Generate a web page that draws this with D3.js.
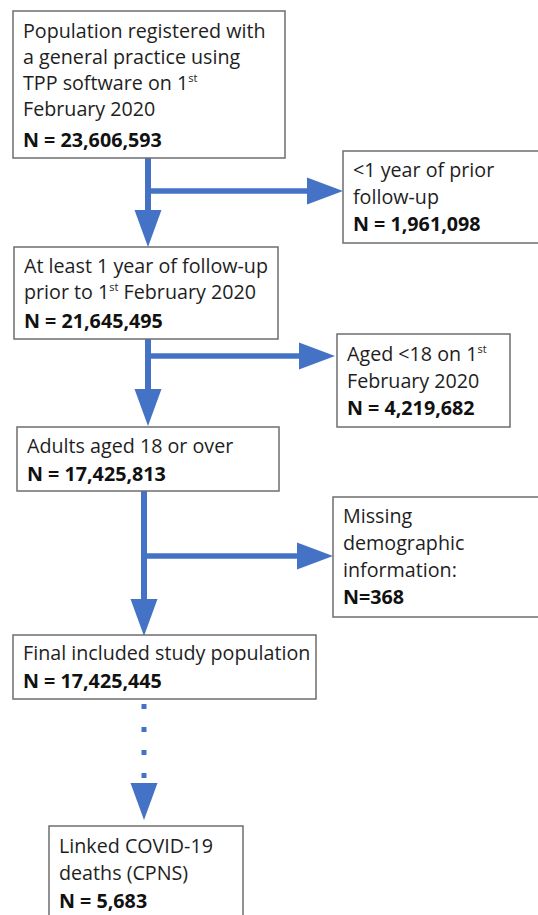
<!DOCTYPE html>
<html>
<head>
<meta charset="utf-8">
<script src="https://cdn.jsdelivr.net/npm/d3@7"></script>
<style>
  body { margin: 0; background: #fff; }
  svg { display: block; }
</style>
</head>
<body>
<div class="flow"><svg></svg></div>
<script>
var width = 538
var height = 915

// box texts, "^" marks a superscript suffix
const stepLabels = [
  ["Population registered with", "a general practice using", "TPP software on 1^st", "February 2020"],
  ["<1 year of prior", "follow-up"],
  ["At least 1 year of follow-up", "prior to 1^st February 2020"],
  ["Aged <18 on 1^st", "February 2020"],
  ["Adults aged 18 or over"],
  ["Missing", "demographic", "information:"],
  ["Final included study population"],
  ["Linked COVID-19", "deaths (CPNS)"]
]
const stepCounts = [23606593, 1961098, 21645495, 4219682, 17425813, 368, 17425445, 5683]
const countPrefix = ["N = ", "N = ", "N = ", "N = ", "N = ", "N=", "N = ", "N = "]

// box geometry: x, y, w, h, first baseline, line step
const boxLayout = [
  { x: 13, y: 11, w: 272, h: 147, base: 38, step: 26, gap: 31 },
  { x: 343, y: 151, w: 210, h: 92, base: 177, step: 27, gap: 27 },
  { x: 14, y: 247, w: 264, h: 92, base: 273, step: 26, gap: 29 },
  { x: 337, y: 334, w: 173, h: 93, base: 361, step: 27, gap: 27 },
  { x: 17, y: 427, w: 262, h: 64, base: 453, step: 27, gap: 28 },
  { x: 333, y: 497, w: 220, h: 120, base: 523, step: 27, gap: 27 },
  { x: 13, y: 635, w: 303, h: 64, base: 660, step: 27, gap: 28 },
  { x: 49, y: 826, w: 194, h: 110, base: 853, step: 27, gap: 28 }
]

// arrows: trunk from (x, y0) down to tip y1, optional branch at by to tip bx
const arrows = [
  { x: 148, y0: 158, y1: 247, by: 191, bx: 343 },
  { x: 148, y0: 339, y1: 426, by: 356, bx: 335 },
  { x: 144, y0: 491, y1: 636, by: 556, bx: 333 },
  { x: 144, y0: 704, y1: 820, dotted: true }
]

const blue = "#4472c4"
const fmt = d3.format(",")
const font = "'Open Sans', 'Noto Sans', sans-serif"
const fontSize = 19.7

let svg = d3.select(".flow").select("svg")
  .attr("width", width)
  .attr("height", height)
  .attr("viewBox", "0 0 " + width + " " + height)

let canvas = svg.append("g").attr("class", "canvas")

// arrows first, boxes on top
let arrowLayer = canvas.append("g").attr("class", "arrow-layer")

arrows.forEach(function (a) {
  var headLen = 37, headHalf = 13.5
  arrowLayer.append("line")
    .attr("x1", a.x).attr("y1", a.y0)
    .attr("x2", a.x).attr("y2", a.y1 - headLen + 2)
    .attr("stroke", blue)
    .attr("stroke-width", a.dotted ? 5 : 6)
    .attr("stroke-dasharray", a.dotted ? "5,18" : null)
  arrowLayer.append("path")
    .attr("d", "M" + (a.x - headHalf) + "," + (a.y1 - headLen) + "L" + (a.x + headHalf) + "," + (a.y1 - headLen) + "L" + a.x + "," + a.y1 + "Z")
    .attr("fill", blue)
  if (a.by != null) {
    arrowLayer.append("line")
      .attr("x1", a.x).attr("y1", a.by)
      .attr("x2", a.bx - 34).attr("y2", a.by)
      .attr("stroke", blue)
      .attr("stroke-width", 5.5)
    arrowLayer.append("path")
      .attr("d", "M" + (a.bx - 36) + "," + (a.by - headHalf) + "L" + a.bx + "," + a.by + "L" + (a.bx - 36) + "," + (a.by + headHalf) + "Z")
      .attr("fill", blue)
  }
})

let nodeLayer = canvas.append("g").attr("class", "node-layer")

let nodes = nodeLayer.selectAll("g.box")
  .data(boxLayout)
  .join("g")
  .attr("class", "box")

nodes.append("rect")
  .attr("x", d => d.x)
  .attr("y", d => d.y)
  .attr("width", d => d.w)
  .attr("height", d => d.h)
  .attr("fill", "#fff")
  .attr("stroke", "#6e6e6e")
  .attr("stroke-width", 1.5)

nodes.each(function (d, i) {
  var g = d3.select(this)
  var tx = d.x + 10
  var lines = stepLabels[i]
  lines.forEach(function (line, j) {
    var t = g.append("text")
      .attr("x", tx)
      .attr("y", d.base + j * d.step)
      .attr("font-family", font)
      .attr("font-size", fontSize)
      .attr("fill", "#1e1e1e")
    var m = line.match(/^(.*?)\^(\S+)(.*)$/)
    if (m) {
      t.append("tspan").text(m[1])
      t.append("tspan").text(m[2])
        .attr("font-size", 11)
        .attr("dy", -8)
      t.append("tspan").text(m[3])
        .attr("dy", 8)
    } else {
      t.text(line)
    }
  })
  g.append("text")
    .attr("x", tx)
    .attr("y", d.base + (lines.length - 1) * d.step + d.gap)
    .attr("font-family", font)
    .attr("font-size", fontSize)
    .attr("font-weight", "bold")
    .attr("fill", "#111")
    .text(countPrefix[i] + fmt(stepCounts[i]))
})
</script>
</body>
</html>
